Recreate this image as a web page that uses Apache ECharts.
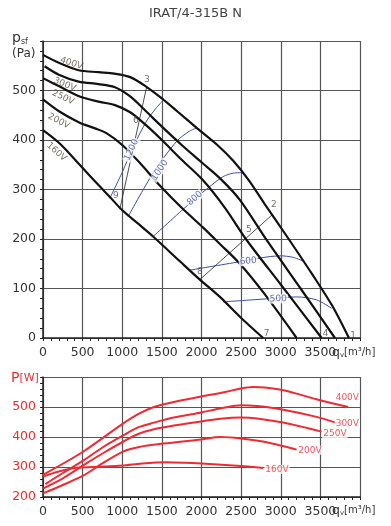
<!DOCTYPE html>
<html><head><meta charset="utf-8">
<script src="https://cdn.jsdelivr.net/npm/echarts@6/dist/echarts.min.js"></script>
<style>html,body{margin:0;padding:0;background:#fff}#c{width:391px;height:526px}</style>
</head><body><div id="c"></div><script>
// ---- Pressure curves (q [m3/h], p_sf [Pa]) ----
const p400 = [[0,572],[200,556],[450,541],[700,537],[900,534],[1100,527],[1300,508],[1500,484],[1700,457],[1950,423],[2200,390],[2400,358],[2600,318],[2800,270],[3100,200],[3400,128],[3650,65],[3860,0]];
const p300 = [[20,549],[200,532],[450,518],[700,513],[900,507],[1100,488],[1300,458],[1500,427],[1750,390],[2000,355],[2250,320],[2484,279],[2821,198],[3250,100],[3684,0]];
const p250 = [[0,525],[211,508],[463,488],[716,477],[900,471],[1100,456],[1300,430],[1500,400],[1750,360],[2017,319],[2300,262],[2569,198],[3000,108],[3516,0]];
const p200 = [[0,482],[211,457],[463,435],[650,424],[800,414],[1000,390],[1221,354],[1474,308],[1750,263],[2021,223],[2232,190],[2484,150],[2800,88],[3200,0]];
const p160 = [[0,420],[211,393],[463,350],[700,309],[850,284],[1000,258],[1200,231],[1389,205],[1727,155],[1979,118],[2232,83],[2484,43],[2778,0]];
// ---- Speed curves (rpm) ----
const rpm1200 = [[843,282],[1000,335],[1150,390],[1306,438],[1420,463],[1515,480]];
const rpm1000 = [[1073,245],[1389,333],[1684,397],[1850,418],[1937,424]];
const rpm800 = [[1389,205],[1852,272],[2105,306],[2273,326],[2400,333],[2525,334]];
const rpm600 = [[1852,137],[2483,154],[2988,166],[3156,163],[3304,154]];
const rpm500 = [[2273,73],[2904,80],[3200,83],[3452,77],[3641,60]];
// ---- System lines ----
const sys39 = [[1306,506],[969,260]];
const sys28 = [[2900,250],[1979,118]];
// ---- Power curves (q [m3/h], P [W]) ----
const w400 = [[0,274],[500,350],[1000,443],[1200,476],[1400,500],[1650,517],[2000,535],[2300,550],[2500,562],[2650,567],[2800,565],[3050,555],[3450,526],[3850,500]];
const w300 = [[30,243],[250,280],[512,322],[750,365],[1016,406],[1200,432],[1400,448],[1650,465],[2000,482],[2236,495],[2500,506],[2700,503],[3032,491],[3452,467],[3705,447]];
const w250 = [[0,228],[250,262],[512,306],[750,345],[1016,385],[1200,410],[1400,426],[1650,438],[2000,452],[2236,461],[2500,465],[2700,462],[3032,448],[3515,418]];
const w200 = [[0,212],[250,240],[512,272],[750,312],[1016,352],[1200,366],[1520,378],[2000,392],[2236,400],[2500,395],[2850,381],[3200,358]];
const w160 = [[0,268],[200,285],[450,298],[700,301],[1000,305],[1250,312],[1550,316],[1800,314],[2100,310],[2500,303],[2780,297]];
// ---- Axis ticks ----
const qMin = 0, qMax = 4000, qStep = 500;
const pMin = 0, pMax = 600, pStep = 100;
const wMin = 200, wMax = 600, wStep = 100;
// ---- Annotation anchors [q, value, text, rotation] ----
const voltTop = [[359,555,'400V',-18],[274,512,'300V',-22],[253,486,'250V',-25],[199,438,'200V',-28],[169,376,'160V',-42]];
const rpmText = [[1116,380,'1200',65],[1474,339,'1000',57],[1916,282,'800',41],[2590,155,'600',5],[2968,79,'500',2]];
const pointText = [[3912,4,'1'],[2914,269,'2'],[1310,521,'3'],[3567,9,'4'],[2598,218,'5'],[1171,440,'6'],[2821,9,'7'],[1979,134,'8'],[918,287,'9']];
const voltBottom = [[3840,531,'400V'],[3840,445,'300V'],[3683,411,'250V'],[3368,356,'200V'],[2952,292,'160V']];

const FF = 'DejaVu Sans';
const RED = '#ee2a33';
const BLUE = '#3b4ea6';
const chart = echarts.init(document.getElementById('c'), null, {renderer:'canvas'});

function xAx(gi){
  return {type:'value', gridIndex:gi, min:qMin, max:qMax, interval:qStep,
    axisLine:{show:true, onZero:false, lineStyle:{color:'#222', width:1.5}},
    axisTick:{show:true, length:3, lineStyle:{color:'#222'}},
    minorTick:{show:true, splitNumber:5, length:3, lineStyle:{color:'#222'}},
    splitLine:{show:true, lineStyle:{color:'#555', width:1.2}},
    axisLabel:{formatter:v => v===qMax?'':String(v), fontSize:12.5, color:'#333', margin:8, fontFamily:FF}};
}
function yAx(gi,min,max,step,col){
  return {type:'value', gridIndex:gi, min:min, max:max, interval:step,
    axisLine:{show:true, onZero:false, lineStyle:{color:'#222', width:1.5}},
    axisTick:{show:true, length:3, lineStyle:{color:'#222'}},
    minorTick:{show:true, splitNumber:5, length:3, lineStyle:{color:'#222'}},
    splitLine:{show:true, lineStyle:{color:'#555', width:1.2}},
    axisLabel:{formatter:v => v===max?'':String(v), fontSize:12.5, color:col, margin:7, fontFamily:FF}};
}
function line(data, gi, color, width){
  return {type:'line', xAxisIndex:gi, yAxisIndex:gi, data:data, showSymbol:false, smooth:0.3,
    lineStyle:{color:color, width:width}, silent:true, z:3};
}
function labels(arr, gi, color, bg, z){
  return {type:'scatter', xAxisIndex:gi, yAxisIndex:gi, symbolSize:0, silent:true, z:z||5,
    data:arr.map(d => ({value:[d[0],d[1]], label:{formatter:d[2], rotate:d[3]||0}})),
    label:{show:true, position:'inside', fontSize:9, fontFamily:FF, color:color,
      backgroundColor:bg||'transparent', padding:bg?[0,1]:0}};
}

chart.setOption({
  animation:false,
  backgroundColor:'#fff',
  grid:[{left:43, right:31, top:41, bottom:188},{left:43, right:31, top:377, bottom:29}],
  xAxis:[xAx(0), xAx(1)],
  yAxis:[yAx(0,pMin,pMax,pStep,'#333'), yAx(1,wMin,wMax,wStep,RED)],
  graphic:[
    {type:'text', left:'center', top:7, style:{text:'IRAT/4-315B N', font:'13px '+FF, fill:'#444'}},
    {type:'text', left:12, top:31, style:{text:'{p|p}{s|sf}\n{u|(Pa)}', rich:{p:{fontSize:14, fontFamily:FF, fill:'#333', lineHeight:16}, s:{fontSize:8, fontFamily:FF, fill:'#333', verticalAlign:'bottom', padding:[4,0,0,0]}, u:{fontSize:12, fontFamily:FF, fill:'#333', lineHeight:16}}}},
    {type:'text', left:11, top:371, style:{text:'{p|P}{u|[W]}', rich:{p:{fontSize:14, fontFamily:FF, fill:RED}, u:{fontSize:11, fontFamily:FF, fill:RED}}}},
    {type:'text', left:332, top:346, style:{text:'{q|q}{v|v}{u|[m³/h]}', rich:{q:{fontSize:12.5, fontFamily:FF, fill:'#333'}, v:{fontSize:7, fontFamily:FF, fill:'#333', padding:[6,0,0,0]}, u:{fontSize:10, fontFamily:FF, fill:'#333'}}}},
    {type:'text', left:332, top:504, style:{text:'{q|q}{v|v}{u|[m³/h]}', rich:{q:{fontSize:12.5, fontFamily:FF, fill:'#333'}, v:{fontSize:7, fontFamily:FF, fill:'#333', padding:[6,0,0,0]}, u:{fontSize:10, fontFamily:FF, fill:'#333'}}}}
  ],
  series:[
    line(rpm1200,0,BLUE,1), line(rpm1000,0,BLUE,1), line(rpm800,0,BLUE,1), line(rpm600,0,BLUE,1), line(rpm500,0,BLUE,1),
    Object.assign(line(sys39,0,'#222',0.8),{smooth:false}), Object.assign(line(sys28,0,'#222',0.8),{smooth:false}),
    line(p400,0,'#111',2.2), line(p300,0,'#111',2.2), line(p250,0,'#111',2.2), line(p200,0,'#111',2.2), line(p160,0,'#111',2.2),
    line(w400,1,RED,2), line(w300,1,RED,2), line(w250,1,RED,2), line(w200,1,RED,2), line(w160,1,RED,2),
    labels(voltTop,0,'#5a4c40'),
    labels(rpmText,0,BLUE,'#fff'),
    labels(pointText,0,'#5a4c40'),
    labels(voltBottom,1,RED,'#fff')
  ]
});
</script></body></html>
